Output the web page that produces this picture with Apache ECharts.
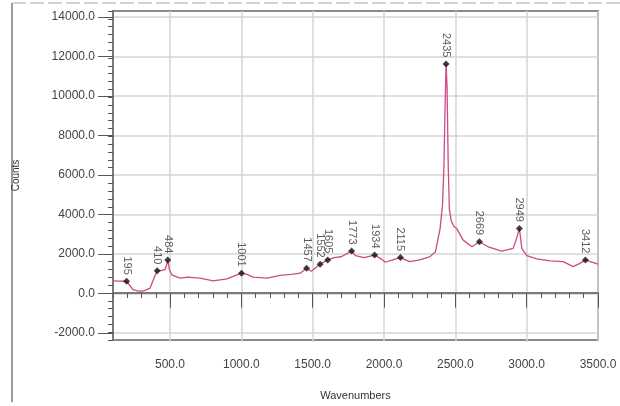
<!DOCTYPE html>
<html>
<head>
<meta charset="utf-8">
<script src="https://cdn.jsdelivr.net/npm/echarts@6/dist/echarts.min.js"></script>
<style>html,body{margin:0;padding:0;background:#fff}#c{width:620px;height:406px}</style>
</head>
<body>
<div id="c"></div>
<script>
// Spectrum trace
var waveNumbers = [100,150,195,240,280,311,360,390,410,440,465,475,484,495,512,570,626,710,802,900,960,1001,1040,1082,1180,1271,1350,1412,1457,1490,1552,1605,1650,1700,1773,1800,1860,1934,1980,2010,2060,2115,2180,2250,2323,2360,2393,2410,2420,2428,2435,2442,2450,2458,2470,2490,2510,2555,2616,2669,2730,2826,2905,2930,2949,2966,3001,3071,3165,3256,3326,3370,3412,3445,3500];
var counts = [620,610,600,170,100,100,250,800,1130,1150,1200,1400,1690,1200,930,760,810,760,620,720,900,1010,950,810,760,900,950,1010,1260,1110,1470,1690,1810,1850,2140,1910,1810,1940,1740,1570,1690,1810,1600,1690,1860,2100,3290,4500,6500,9500,11700,10500,6500,4300,3710,3400,3290,2700,2360,2620,2360,2140,2280,2800,3300,2280,1910,1740,1640,1600,1350,1500,1690,1600,1470];
// Peak picks
var peakX = [195,410,484,1001,1457,1552,1605,1773,1934,2115,2435,2669,2949,3412];
var peakY = [600,1130,1690,1010,1260,1470,1690,2140,1940,1810,11700,2620,3300,1690];
var peakLabels = ['195','410','484','1001','1457','1552','1605','1773','1934','2115','2435','2669','2949','3412'];
// Axis ticks
var xTicks = [500,1000,1500,2000,2500,3000,3500];
var yTicks = [-2000,0,2000,4000,6000,8000,10000,12000,14000];

var chart = echarts.init(document.getElementById('c'), null, {renderer:'canvas'});
var font = 'Liberation Sans, Arial, sans-serif';
var lineData = waveNumbers.map(function(w,i){return [w, counts[i]];});
var peakData = peakX.map(function(w,i){return [w, peakY[i], peakLabels[i]];});

chart.setOption({
  animation:false,
  backgroundColor:'#fff',
  graphic:[
    {type:'line', shape:{x1:12,y1:3,x2:12,y2:402}, style:{stroke:'#9a9a9a', lineWidth:2}},
    {type:'line', shape:{x1:12,y1:3,x2:620,y2:3}, style:{stroke:'#c4c4c4', lineWidth:1.5, lineDash:[14,4]}}
  ],
  grid:[
    {left:113, right:22, top:11, bottom:64, show:true, borderColor:'#8a8a8a', borderWidth:2, backgroundColor:'#fff'},
    {left:113, right:22, top:17, bottom:73},
    {left:170, right:22, top:11, bottom:64}
  ],
  xAxis:[
    {gridIndex:0, type:'value', min:100, max:3500, interval:100,
     axisLine:{show:true, lineStyle:{color:'#7a7a7a', width:2}},
     axisTick:{show:true, length:5, lineStyle:{color:'#555'}},
     axisLabel:{show:false}, splitLine:{show:false},
     name:'Wavenumbers', nameLocation:'middle', nameGap:50,
     nameTextStyle:{fontFamily:font, fontSize:11, color:'#333'}},
    {gridIndex:1, type:'value', min:100, max:3500, show:false},
    {gridIndex:2, type:'value', min:500, max:3500, interval:500,
     axisLine:{show:false},
     axisTick:{show:true, length:13, lineStyle:{color:'#555'}},
     axisLabel:{show:true, margin:17, fontFamily:font, fontSize:12, color:'#444',
       formatter:function(v){return v.toFixed(1);}},
     splitLine:{show:true, lineStyle:{color:'#d4d4d4', width:1.5}}}
  ],
  yAxis:[
    {gridIndex:0, type:'value', min:-2400, max:14400, interval:400,
     axisLine:{show:true, lineStyle:{color:'#7a7a7a', width:2}},
     axisTick:{show:true, length:5, lineStyle:{color:'#555'}},
     axisLabel:{show:false}, splitLine:{show:false},
     name:'Counts', nameLocation:'middle', nameGap:92, nameRotate:90,
     nameTextStyle:{fontFamily:font, fontSize:10, color:'#333'}},
    {gridIndex:1, type:'value', min:-2000, max:14000, interval:2000,
     axisLine:{show:false},
     axisTick:{show:true, length:15, lineStyle:{color:'#555'}},
     axisLabel:{show:true, margin:18, fontFamily:font, fontSize:12, color:'#444',
       formatter:function(v){return v.toFixed(1);}},
     splitLine:{show:true, lineStyle:{color:'#d4d4d4', width:1.5}}},
    {gridIndex:2, type:'value', min:-2400, max:14400, show:false}
  ],
  series:[
    {type:'line', xAxisIndex:0, yAxisIndex:0, data:lineData, showSymbol:false,
     lineStyle:{color:'#cc4a88', width:1.3}, z:5},
    {type:'scatter', xAxisIndex:0, yAxisIndex:0, data:peakData, symbol:'diamond', symbolSize:7,
     itemStyle:{color:'#111'}, z:6,
     label:{show:true, position:'top', distance:3, rotate:-90, align:'right', verticalAlign:'middle',
       fontFamily:font, fontSize:11, color:'#333',
       formatter:function(p){return p.data[2];}}}
  ]
});
</script>
</body>
</html>
